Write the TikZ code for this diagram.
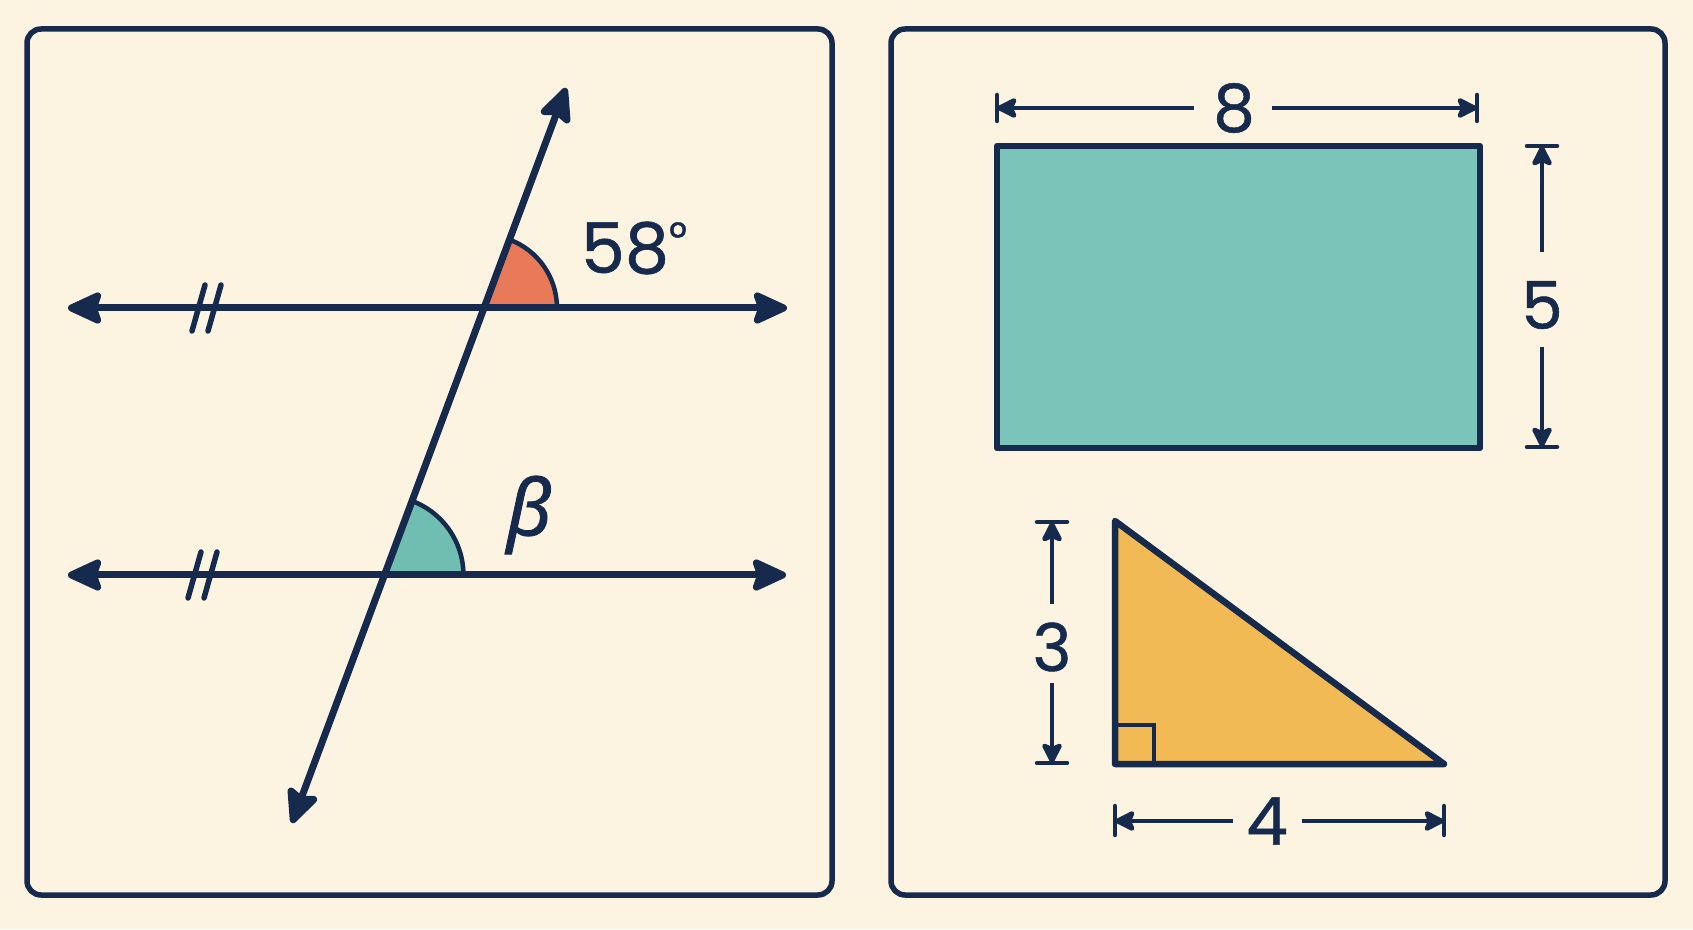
\documentclass[tikz,border=0pt]{standalone}
\usepackage{fontspec}
\setmainfont{Poppins}
\newfontfamily\numfont{Poppins}[FakeBold=0.8]
\newfontfamily\greekfont{Noto Sans}[FakeBold=1.0]
\usetikzlibrary{arrows.meta,calc}
\definecolor{cream}{RGB}{253,243,225}
\definecolor{navy}{RGB}{22,42,77}
\definecolor{tealfill}{RGB}{122,196,186}
\definecolor{tealarc}{RGB}{112,190,178}
\definecolor{redarc}{RGB}{232,122,90}
\definecolor{yellowfill}{RGB}{242,186,84}
\tikzset{
  panel/.style={draw=navy, line width=5.5pt, rounded corners=14pt},
  mainline/.style={color=navy, line width=7pt, line cap=round,
    {Stealth[length=40pt,width=36pt,inset=6pt,round,fill=navy]}-{Stealth[length=40pt,width=36pt,inset=6pt,round,fill=navy]}},
  tickmark/.style={draw=navy, line width=5.5pt, line cap=round},
  arcline/.style={draw=navy, line width=4.5pt},
  shapeline/.style={draw=navy, line width=6.5pt, line join=round},
  dimline/.style={color=navy, line width=4.5pt, -{Stealth[length=24pt,width=24pt,inset=5pt,round,fill=navy]}},
  dimtick/.style={draw=navy, line width=4.5pt, line cap=round},
  numlabel/.style={text=navy, font=\numfont\fontsize{66}{70}\selectfont, inner sep=0pt},
  anglabel/.style={text=navy, font=\numfont\fontsize{70}{74}\selectfont, inner sep=0pt}
}
\begin{document}
\begin{tikzpicture}[x=1pt,y=1pt]
\useasboundingbox (0,0) rectangle (1693,929);
\fill[cream] (0,0) rectangle (1693,929);

% ---------- left panel ----------
\draw[panel] (27,34) rectangle (832,900);

\coordinate (L1a) at (68,621);  \coordinate (L1b) at (787,621);
\coordinate (L2a) at (68,354);  \coordinate (L2b) at (786,354);
\coordinate (Tb) at (292,106);  \coordinate (Tt) at (566,841);
\coordinate (I1) at (intersection of L1a--L1b and Tb--Tt);
\coordinate (I2) at (intersection of L2a--L2b and Tb--Tt);

% angle fills
\fill[redarc] (I1) -- ++(73,0) arc[start angle=0,end angle=69.55,radius=73] -- cycle;
\fill[tealarc] (I2) -- ++(79,0) arc[start angle=0,end angle=69.55,radius=79] -- cycle;
\draw[arcline] ($(I1)+(73,0)$) arc[start angle=0,end angle=69.55,radius=73];
\draw[arcline] ($(I2)+(79,0)$) arc[start angle=0,end angle=69.55,radius=79];

\draw[mainline] (L1a) -- (L1b);
\draw[mainline] (L2a) -- (L2b);
\draw[mainline] (Tb) -- (Tt);

% parallel marks
\draw[tickmark] (192,598) -- (205,644);
\draw[tickmark] (208,598) -- (221,644);
\draw[tickmark] (188,331) -- (201,377);
\draw[tickmark] (204,331) -- (217,377);

\node[anglabel] (a58) at (634,681) {58\raisebox{20pt}{\fontsize{44}{46}\selectfont °}};
\node[text=navy, inner sep=0pt, font=\greekfont\itshape\fontsize{78}{82}\selectfont] (beta) at (529,414) {β};

% ---------- right panel ----------
\draw[panel] (891,34) rectangle (1665,900);

\draw[shapeline, fill=tealfill] (997,481) rectangle (1480,783);

% width 8
\draw[dimtick] (997,808) -- (997,834);
\draw[dimtick] (1477,808) -- (1477,834);
\node[numlabel] (n8) at (1234,821) {8};
\draw[dimline] (1194,821) -- (997,821);
\draw[dimline] (1272,821) -- (1477,821);

% height 5
\draw[dimtick] (1527,783) -- (1557,783);
\draw[dimtick] (1527,482) -- (1557,482);
\node[numlabel] (n5) at (1542,624) {5};
\draw[dimline] (1542,677) -- (1542,783);
\draw[dimline] (1542,582) -- (1542,482);

% triangle
\draw[shapeline, fill=yellowfill] (1115,165) -- (1115,408) -- (1444,165) -- cycle;
\draw[draw=navy, line width=4pt] (1115,204) -- (1154,204) -- (1154,165);

% height 3
\draw[dimtick] (1037,407) -- (1067,407);
\draw[dimtick] (1037,166) -- (1067,166);
\node[numlabel] (n3) at (1052,282) {3};
\draw[dimline] (1052,325) -- (1052,407);
\draw[dimline] (1052,246) -- (1052,166);

% width 4
\draw[dimtick] (1115,94) -- (1115,123);
\draw[dimtick] (1444,94) -- (1444,123);
\node[numlabel] (n4) at (1267,108) {4};
\draw[dimline] (1233,108) -- (1115,108);
\draw[dimline] (1302,108) -- (1444,108);
\end{tikzpicture}
\end{document}
